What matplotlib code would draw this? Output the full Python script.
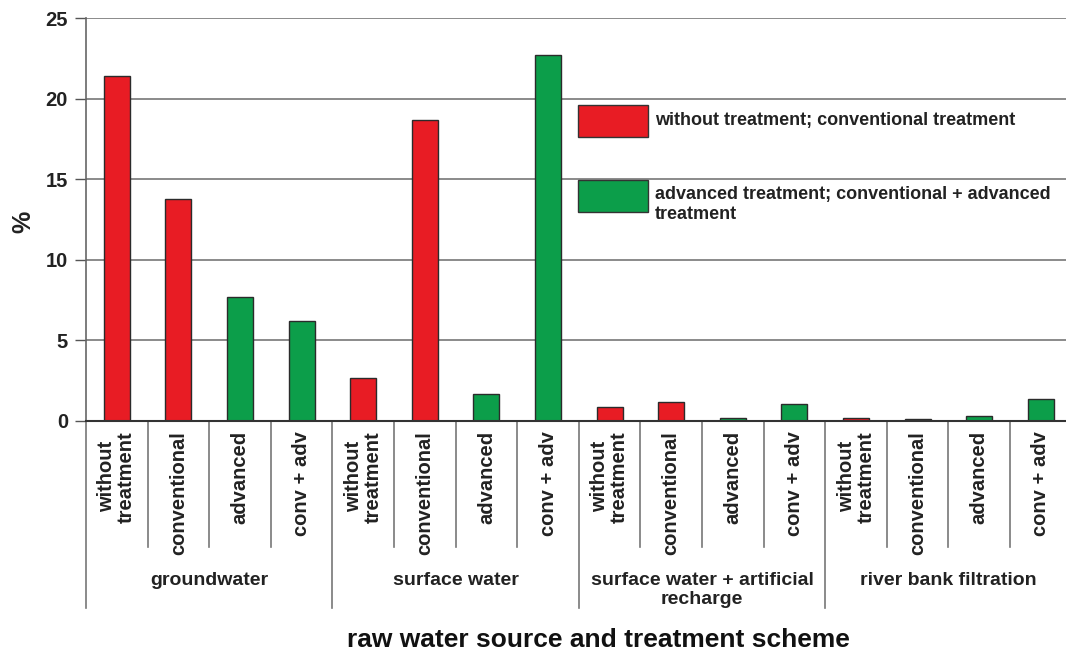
import matplotlib
matplotlib.use("Agg")
import matplotlib.pyplot as plt
import matplotlib.transforms as mtransforms
from matplotlib.patches import Rectangle
import numpy as np

plt.rcParams['font.family'] = ['Liberation Sans', 'DejaVu Sans']
plt.rcParams['font.weight'] = 'bold'

groups = ["groundwater", "surface water", "surface water + artificial\nrecharge", "river bank filtration"]
schemes = ["without\ntreatment", "conventional", "advanced", "conv + adv"]
groundwater = [21.4, 13.8, 7.7, 6.2]
surface_water = [2.65, 18.7, 1.7, 22.7]
artificial_recharge = [0.85, 1.2, 0.2, 1.07]
river_bank = [0.18, 0.15, 0.3, 1.38]
yticks = [0, 5, 10, 15, 20, 25]
legend_labels = ["without treatment; conventional treatment",
                 "advanced treatment; conventional + advanced\ntreatment"]

RED = '#e81c24'
GREEN = '#0c9e4a'
scheme_colors = [RED, RED, GREEN, GREEN]

W, H = 1066, 656
fig = plt.figure(figsize=(W / 100, H / 100), dpi=100)
ax_left, ax_right, ax_top, ax_bottom = 86, 1066, 18, 421
ax = fig.add_axes([ax_left / W, 1 - ax_bottom / H, (ax_right - ax_left) / W, (ax_bottom - ax_top) / H])

cat_w = 61.6
all_vals = groundwater + surface_water + artificial_recharge + river_bank
n = len(all_vals)
x = np.arange(n) + 0.5
colors = scheme_colors * len(groups)
ax.bar(x, all_vals, width=0.42, color=colors, edgecolor='#2b2b2b', linewidth=1.0, zorder=3)

ax.set_xlim(0, (ax_right - ax_left) / cat_w)
ax.set_ylim(0, 25)
ax.set_yticks(yticks)
ax.set_yticklabels([str(t) for t in yticks], fontsize=14.5, fontweight='bold', color='#222')
ax.tick_params(axis='y', direction='out', length=8, width=1, color='#555', pad=5)
ax.set_xticks([])
ax.yaxis.grid(True, color='#8a8a8a', linewidth=1.4, zorder=0)
ax.set_axisbelow(True)
for s in ['top', 'right']:
    ax.spines[s].set_visible(False)
ax.spines['left'].set_color('#666')
ax.spines['left'].set_linewidth(1.2)
ax.spines['bottom'].set_color('#333')
ax.spines['bottom'].set_linewidth(1.5)
ax.spines['bottom'].set_zorder(4)

fig.text(23 / W, 1 - 222 / H, "%", rotation=90, fontsize=18,
         fontweight='bold', ha='center', va='center', color='#222')

trans = mtransforms.blended_transform_factory(ax.transData, fig.transFigure)
def fy(px):
    return 1 - px / H

# separators
for i in range(n + 1):
    if i % 4 == 0:
        y_end = 608
    else:
        y_end = 547
    ax.plot([i, i], [fy(ax_bottom), fy(y_end)], transform=trans, color='#777',
            linewidth=1.2, clip_on=False)

# category labels
for i in range(n):
    ax.text(x[i], fy(431), schemes[i % 4], transform=trans, rotation=90,
            ha='center', va='top', multialignment='center', fontsize=14.5,
            fontweight='bold', color='#222', linespacing=1.05)

# group labels
for g, name in enumerate(groups):
    ax.text(g * 4 + 2, fy(572), name, transform=trans, ha='center', va='top',
            multialignment='center', fontsize=14, fontweight='bold', color='#222',
            linespacing=1.15)

fig.text(598 / W, fy(640), "raw water source and treatment scheme", ha='center',
         va='center', fontsize=19, fontweight='bold', color='#111')

# legend
for (y0, col, lab, ty) in [(105, RED, legend_labels[0], 121), (180, GREEN, legend_labels[1], 186)]:
    fig.add_artist(Rectangle((578 / W, fy(y0 + 32)), 70 / W, 32 / H, transform=fig.transFigure,
                             facecolor=col, edgecolor='#333', linewidth=1.0))
    fig.text(655 / W, fy(ty), lab, ha='left', va='center' if '\n' not in lab else 'top',
             fontsize=13, fontweight='bold', color='#222', linespacing=1.2)

fig.savefig("out.png", dpi=100)
